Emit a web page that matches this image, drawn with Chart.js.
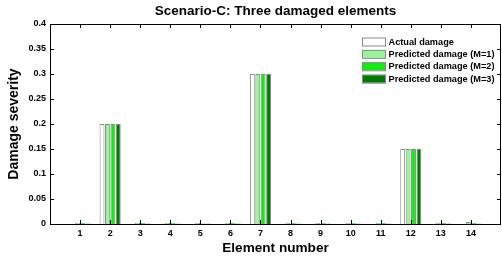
<!DOCTYPE html>
<html>
<head>
<meta charset="utf-8">
<script src="https://cdn.jsdelivr.net/npm/chart.js@4.4.0/dist/chart.umd.min.js"></script>
<style>
  html, body { margin: 0; padding: 0; background: #fff; overflow: hidden; }
  #wrap { width: 502px; height: 256px; }
</style>
</head>
<body>
<div id="wrap"><canvas id="damageChart"></canvas></div>
<script>
// element numbers (with empty slots at 0 and 15, like the matlab axis 0..15)
const elements = ['', '1', '2', '3', '4', '5', '6', '7', '8', '9', '10', '11', '12', '13', '14', ''];

const actualDamage = [null, 0, 0.2, 0, 0, 0, 0, 0.3, 0, 0, 0, 0, 0.15, 0, 0, null];
const predictedM1 = [null, 0.002, 0.2, 0.002, 0.002, 0.002, 0.002, 0.3, 0.002, 0.002, 0.002, 0.002, 0.15, 0.002, 0.004, null];
const predictedM2 = [null, 0.002, 0.2, 0.002, 0.002, 0.001, 0.002, 0.3, 0.002, 0.002, 0.002, 0.002, 0.15, 0.002, 0.002, null];
const predictedM3 = [null, 0.001, 0.2, 0.001, 0.001, 0.001, 0.001, 0.3, 0.001, 0.001, 0.001, 0.001, 0.15, 0.001, 0.001, null];

const yTicks = [0, 0.05, 0.1, 0.15, 0.2, 0.25, 0.3, 0.35, 0.4];

const chartTitle = 'Scenario-C: Three damaged elements';
const font = 'Liberation Sans, Arial, sans-serif';

// matlab-style box with inward ticks on all sides, title centred over the axes
const boxPlugin = {
    id: 'box',
    afterDraw(chart) {
        const { ctx, chartArea: a, scales } = chart;
        ctx.save();
        ctx.strokeStyle = '#000';
        ctx.lineWidth = 1;
        ctx.strokeRect(a.left + 0.5, a.top + 0.5, a.right - a.left - 1, a.bottom - a.top);
        ctx.beginPath();
        scales.y.ticks.forEach(t => {
            const y = Math.round(scales.y.getPixelForValue(t.value)) + 0.5;
            ctx.moveTo(a.left, y); ctx.lineTo(a.left + 4, y);
            ctx.moveTo(a.right, y); ctx.lineTo(a.right - 4, y);
        });
        for (let i = 1; i < elements.length - 1; i++) {
            const x = Math.round(scales.x.getPixelForValue(i)) + 0.5;
            ctx.moveTo(x, a.bottom); ctx.lineTo(x, a.bottom - 4);
            ctx.moveTo(x, a.top); ctx.lineTo(x, a.top + 4);
        }
        ctx.stroke();

        ctx.fillStyle = '#000';
        ctx.font = 'bold 13.5px ' + font;
        ctx.textAlign = 'center';
        ctx.textBaseline = 'middle';
        ctx.fillText(chartTitle, (a.left + a.right) / 2, 11);
        ctx.restore();
    }
};

// legend inside the axes, top right
const legendPlugin = {
    id: 'boxLegend',
    afterDraw(chart) {
        const { ctx } = chart;
        ctx.save();
        ctx.font = 'bold 9.2px ' + font;
        ctx.textBaseline = 'middle';
        chart.data.datasets.forEach((ds, i) => {
            const y = 41.5 + i * 12.4;
            ctx.fillStyle = ds.backgroundColor;
            ctx.fillRect(362, y - 4, 24, 8);
            ctx.strokeStyle = '#8a8a8a';
            ctx.lineWidth = 1;
            ctx.strokeRect(362.5, y - 3.5, 23, 8);
            ctx.fillStyle = '#000';
            ctx.fillText(ds.label, 388.5, y + 0.5);
        });
        ctx.restore();
    }
};

const ctx = document.getElementById('damageChart').getContext('2d');

const damageChart = new Chart(ctx, {
    type: 'bar',
    data: {
        labels: elements,
        datasets: [
            { label: 'Actual damage', data: actualDamage, backgroundColor: '#ffffff' },
            { label: 'Predicted damage (M=1)', data: predictedM1, backgroundColor: '#99f599' },
            { label: 'Predicted damage (M=2)', data: predictedM2, backgroundColor: '#11ee11' },
            { label: 'Predicted damage (M=3)', data: predictedM3, backgroundColor: '#007a00' }
        ].map(ds => Object.assign(ds, {
            borderColor: '#8a8a8a',
            borderWidth: 1,
            categoryPercentage: 0.72,
            barPercentage: 0.9
        }))
    },
    options: {
        responsive: true,
        maintainAspectRatio: false,
        animation: false,
        layout: {
            padding: { left: 0, right: 1, top: 24, bottom: 0 }
        },
        scales: {
            x: {
                offset: false,
                grid: { display: false, drawTicks: false },
                border: { display: false },
                ticks: {
                    color: '#000',
                    font: { family: font, size: 9, weight: 'bold' },
                    padding: 4,
                    maxRotation: 0,
                    autoSkip: false
                },
                title: {
                    display: true,
                    text: 'Element number',
                    color: '#000',
                    font: { family: font, size: 13.6, weight: 'bold' },
                    padding: { top: 0, bottom: 0 }
                },
                afterFit(scale) {
                    scale.height = 32;
                    scale.paddingRight = 0;
                    scale.paddingLeft = 0;
                }
            },
            y: {
                min: 0,
                max: 0.4,
                afterBuildTicks(scale) { scale.ticks = yTicks.map(v => ({ value: v })); },
                grid: { display: false, drawTicks: false },
                border: { display: false },
                ticks: {
                    color: '#000',
                    font: { family: font, size: 9, weight: 'bold' },
                    padding: 4,
                    callback: v => String(Math.round(v * 100) / 100)
                },
                title: {
                    display: true,
                    text: 'Damage severity',
                    color: '#000',
                    font: { family: font, size: 14, weight: 'bold' },
                    padding: { top: 6, bottom: 4 }
                },
                afterFit(scale) {
                    scale.width = 50;
                    scale.paddingTop = 0;
                }
            }
        },
        plugins: {
            legend: { display: false },
            tooltip: { enabled: false },
            title: { display: false }
        }
    },
    plugins: [boxPlugin, legendPlugin]
});
</script>
</body>
</html>
